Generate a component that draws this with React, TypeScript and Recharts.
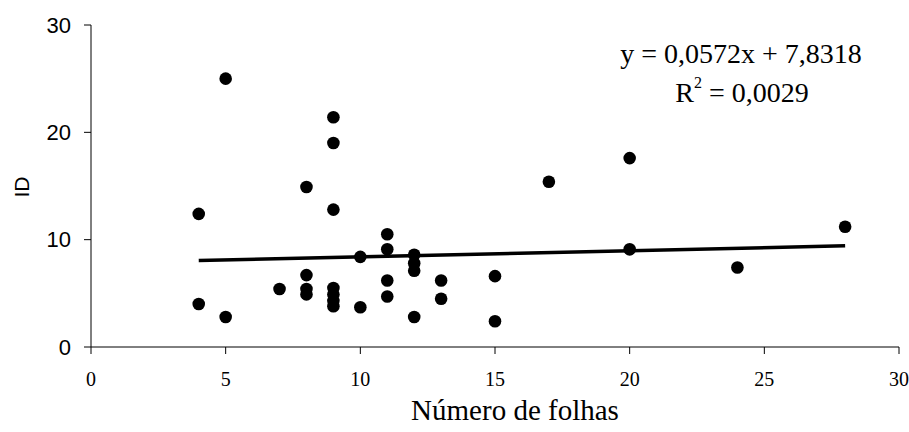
import React from "react";
import { ScatterChart, Scatter, XAxis, YAxis, Customized } from "recharts";

const leafCounts = [4, 4, 5, 5, 7, 8, 8, 8, 8, 9, 9, 9, 9, 9, 9, 9, 10, 10, 11, 11, 11, 11, 12, 12, 12, 12, 13, 13, 15, 15, 17, 20, 20, 24, 28];
const idValues = [12.4, 4.0, 25.0, 2.8, 5.4, 14.9, 6.7, 5.4, 4.9, 21.4, 19.0, 12.8, 5.5, 4.9, 4.3, 3.8, 8.4, 3.7, 10.5, 9.1, 6.2, 4.7, 8.6, 7.8, 7.1, 2.8, 6.2, 4.5, 6.6, 2.4, 15.4, 17.6, 9.1, 7.4, 11.2];
const trendX = [4, 28];
const trendY = [8.06, 9.43];
const xTicks = [0, 5, 10, 15, 20, 25, 30];
const yTicks = [0, 10, 20, 30];
const equationText = "y = 0,0572x + 7,8318";
const r2Value = " = 0,0029";
const xTitle = "Número de folhas";
const yTitle = "ID";

const points = leafCounts.map((x, i) => ({ x, y: idValues[i] }));
const trend = trendX.map((x, i) => ({ x, y: trendY[i] }));

const serif = "'Liberation Serif', 'Times New Roman', serif";
const sans = "'Liberation Sans', Arial, sans-serif";

const Dot = (props: any) => <circle cx={props.cx} cy={props.cy} r={6.3} fill="#000" />;
const NoDot = () => <g />;

const Texts = () => (
  <g>
    <text x={741} y={63} textAnchor="middle" fontFamily={serif} fontSize={28} fill="#000">
      {equationText}
    </text>
    <text x={742} y={102} textAnchor="middle" fontFamily={serif} fontSize={28} fill="#000">
      R<tspan fontSize={16} dy={-14}>2</tspan>
      <tspan dy={14}>{r2Value}</tspan>
    </text>
    <text x={515} y={420} textAnchor="middle" fontFamily={serif} fontSize={29} fill="#000">
      {xTitle}
    </text>
    <text
      x={21}
      y={187}
      textAnchor="middle"
      dominantBaseline="central"
      fontFamily={sans}
      fontSize={21}
      fill="#000"
      transform="rotate(-90 21 187)"
    >
      {yTitle}
    </text>
  </g>
);

export default function App() {
  return (
    <div style={{ position: "absolute", left: 0, top: 0, background: "#fff" }}>
      <ScatterChart width={909} height={432} margin={{ top: 25, right: 10, bottom: 25, left: 0 }}>
        <XAxis
          type="number"
          dataKey="x"
          domain={[0, 30]}
          ticks={xTicks}
          height={60}
          tickSize={7}
          tickMargin={18}
          axisLine={{ stroke: "#000", strokeWidth: 1 }}
          tickLine={{ stroke: "#000", strokeWidth: 1 }}
          tick={{ fill: "#000", fontFamily: serif, fontSize: 20 }}
          allowDataOverflow
        />
        <YAxis
          type="number"
          dataKey="y"
          domain={[0, 30]}
          ticks={yTicks}
          width={91}
          tickSize={7}
          tickMargin={13}
          axisLine={{ stroke: "#000", strokeWidth: 1 }}
          tickLine={{ stroke: "#000", strokeWidth: 1 }}
          tick={{ fill: "#000", fontFamily: sans, fontSize: 22 }}
          allowDataOverflow
        />
        <Scatter data={trend} line={{ stroke: "#000", strokeWidth: 3.5 }} shape={NoDot} isAnimationActive={false} />
        <Scatter data={points} shape={Dot} isAnimationActive={false} />
        <Customized component={<Texts />} />
      </ScatterChart>
    </div>
  );
}
